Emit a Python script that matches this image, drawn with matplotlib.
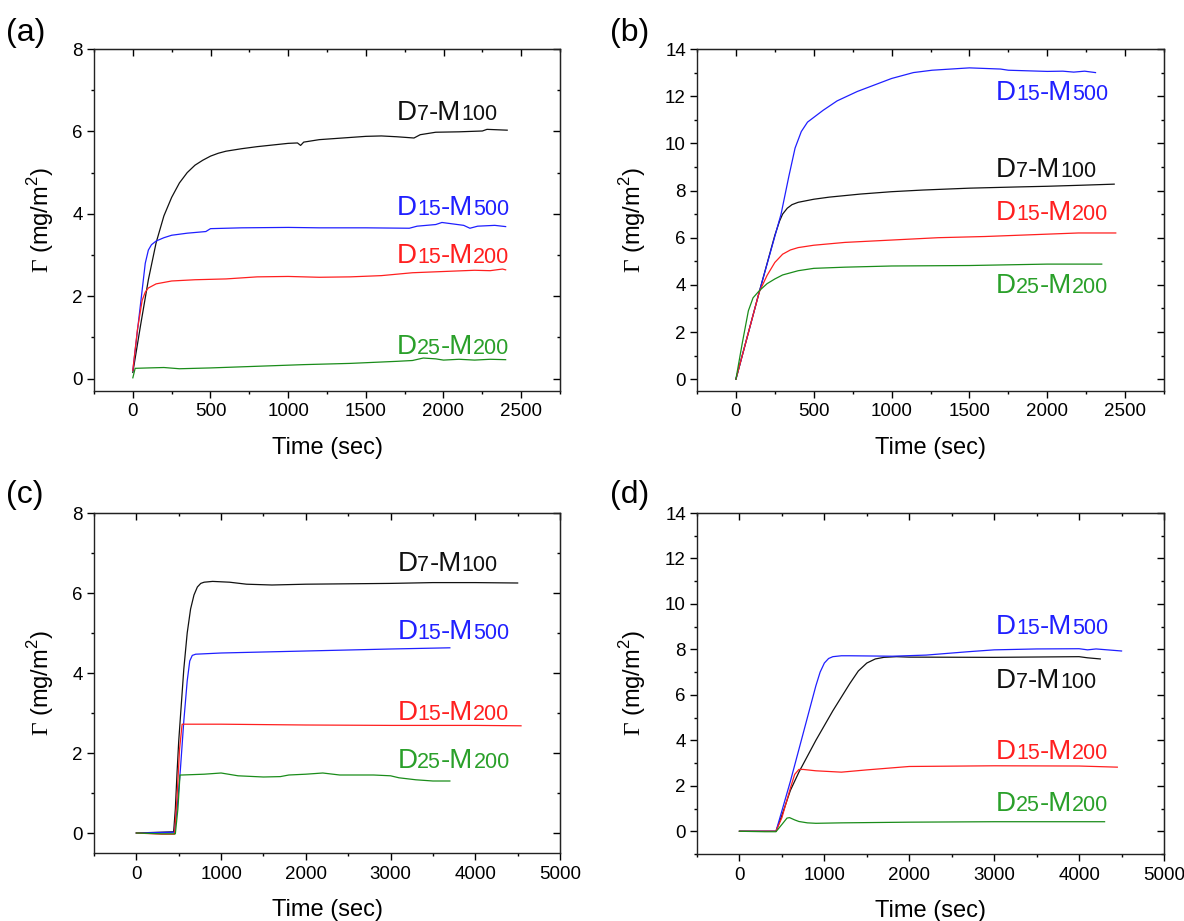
import matplotlib
matplotlib.use("Agg")
import matplotlib.pyplot as plt
from matplotlib.ticker import MultipleLocator

plt.rcParams['font.family'] = ['Liberation Sans', 'DejaVu Sans']
plt.rcParams['mathtext.fontset'] = 'custom'
plt.rcParams['mathtext.rm'] = 'Liberation Serif'
plt.rcParams['mathtext.sf'] = 'Liberation Sans'

# ---- data ----
# panel (a)
a_t_d7 = [0, 50, 100, 150, 200, 250, 300, 350, 400, 450, 500, 550, 600, 700, 800, 900, 1000, 1060, 1080, 1100,
          1200, 1350, 1500, 1600, 1700, 1810, 1850, 1950, 2100, 2250, 2280, 2410]
a_y_d7 = [0.15, 1.3, 2.4, 3.3, 3.95, 4.4, 4.75, 5.0, 5.18, 5.3, 5.4, 5.47, 5.52, 5.58, 5.63, 5.67, 5.71, 5.72, 5.66, 5.74,
          5.8, 5.84, 5.88, 5.89, 5.87, 5.84, 5.92, 5.98, 5.99, 6.01, 6.05, 6.03]
a_t_d15m500 = [0, 40, 80, 100, 120, 150, 200, 250, 350, 470, 500, 700, 1000, 1200, 1500, 1780, 1830, 1950, 1990,
               2050, 2130, 2170, 2220, 2330, 2400]
a_y_d15m500 = [0.2, 1.5, 2.8, 3.12, 3.25, 3.34, 3.42, 3.48, 3.53, 3.57, 3.64, 3.66, 3.67, 3.66, 3.66, 3.65, 3.7, 3.74,
               3.79, 3.76, 3.72, 3.65, 3.7, 3.72, 3.69]
a_t_d15m200 = [0, 30, 60, 80, 100, 150, 250, 400, 600, 800, 1000, 1200, 1400, 1600, 1800, 2000, 2200, 2300, 2380, 2400]
a_y_d15m200 = [0.2, 1.2, 1.9, 2.1, 2.2, 2.3, 2.37, 2.4, 2.42, 2.47, 2.48, 2.46, 2.47, 2.5, 2.57, 2.6, 2.63, 2.62,
               2.66, 2.64]
a_t_d25 = [0, 15, 100, 200, 300, 500, 800, 1100, 1400, 1700, 1800, 1870, 1950, 2000, 2100, 2200, 2300, 2400]
a_y_d25 = [0.02, 0.25, 0.26, 0.27, 0.24, 0.26, 0.3, 0.34, 0.37, 0.42, 0.44, 0.5, 0.48, 0.45, 0.47, 0.45, 0.47, 0.46]

# panel (b)
b_t_d7 = [0, 150, 250, 280, 300, 330, 360, 400, 500, 600, 800, 1000, 1200, 1500, 1800, 2000, 2200, 2430]
b_y_d7 = [0, 3.7, 6.1, 6.7, 7.0, 7.25, 7.4, 7.5, 7.63, 7.72, 7.85, 7.95, 8.02, 8.1, 8.15, 8.18, 8.22, 8.27]
b_t_d15m500 = [0, 150, 290, 340, 380, 420, 460, 500, 560, 650, 780, 900, 1000, 1140, 1260, 1500, 1700, 1750,
               2000, 2100, 2170, 2240, 2310]
b_y_d15m500 = [0, 3.7, 7.0, 8.6, 9.8, 10.5, 10.9, 11.1, 11.4, 11.8, 12.2, 12.5, 12.75, 13.0, 13.1, 13.2, 13.15,
               13.1, 13.05, 13.06, 13.02, 13.06, 13.0]
b_t_d15m200 = [0, 150, 200, 250, 300, 350, 400, 500, 700, 1000, 1300, 1600, 2000, 2200, 2440]
b_y_d15m200 = [0, 3.7, 4.4, 4.95, 5.3, 5.48, 5.58, 5.68, 5.8, 5.9, 6.0, 6.05, 6.15, 6.2, 6.2]
b_t_d25 = [0, 40, 80, 110, 150, 200, 250, 300, 400, 500, 700, 1000, 1500, 2000, 2350]
b_y_d25 = [0, 1.5, 2.9, 3.45, 3.75, 4.05, 4.25, 4.42, 4.6, 4.7, 4.75, 4.8, 4.82, 4.88, 4.88]

# panel (c)
c_t_d7 = [0, 440, 460, 480, 500, 530, 560, 600, 640, 680, 720, 760, 800, 900, 1000, 1100, 1300, 1600, 2000,
          2500, 3000, 3500, 4000, 4500]
c_y_d7 = [0, 0.03, 0.6, 1.5, 2.3, 3.2, 4.1, 5.0, 5.6, 5.95, 6.15, 6.24, 6.27, 6.29, 6.28, 6.27, 6.22, 6.2, 6.22,
          6.23, 6.24, 6.26, 6.26, 6.25]
c_t_d15m500 = [0, 450, 480, 520, 560, 600, 630, 660, 700, 800, 1000, 2000, 3000, 3700]
c_y_d15m500 = [0, 0.02, 0.6, 1.6, 2.8, 3.8, 4.3, 4.44, 4.47, 4.48, 4.5, 4.55, 4.6, 4.63]
c_t_d15m200 = [0, 300, 450, 480, 510, 540, 1000, 2000, 3000, 4000, 4540]
c_y_d15m200 = [0, -0.03, -0.03, 0.9, 2.1, 2.72, 2.72, 2.7, 2.69, 2.69, 2.68]
c_t_d25 = [0, 300, 460, 490, 515, 540, 800, 1000, 1200, 1500, 1700, 1800, 2000, 2200, 2400, 2800, 3000,
           3100, 3300, 3500, 3700]
c_y_d25 = [0, -0.02, -0.02, 0.6, 1.45, 1.45, 1.47, 1.5, 1.43, 1.4, 1.41, 1.45, 1.47, 1.5, 1.45, 1.45, 1.43,
           1.38, 1.33, 1.3, 1.3]

# panel (d)
d_t_d7 = [0, 430, 500, 600, 700, 800, 900, 1000, 1100, 1200, 1300, 1400, 1500, 1600, 1700, 1850, 2000, 3000,
          4000, 4100, 4250]
d_y_d7 = [0, 0, 0.7, 1.8, 2.6, 3.3, 4.0, 4.65, 5.3, 5.9, 6.5, 7.05, 7.4, 7.58, 7.65, 7.68, 7.66, 7.65, 7.68,
          7.63, 7.58]
d_t_d15m500 = [0, 430, 500, 600, 700, 800, 900, 950, 1000, 1050, 1100, 1200, 1300, 1800, 2200, 2700, 3000, 3500,
               4000, 4100, 4200, 4500]
d_y_d15m500 = [0, 0, 0.9, 2.2, 3.6, 5.0, 6.4, 7.0, 7.4, 7.6, 7.68, 7.72, 7.72, 7.7, 7.75, 7.9, 7.98, 8.02, 8.03,
               7.98, 8.02, 7.93]
d_t_d15m200 = [0, 430, 500, 600, 650, 700, 750, 900, 1200, 1500, 2000, 3000, 4000, 4450]
d_y_d15m200 = [0, 0, 0.6, 1.9, 2.5, 2.72, 2.72, 2.66, 2.6, 2.7, 2.85, 2.88, 2.87, 2.82]
d_t_d25 = [0, 300, 430, 500, 560, 590, 650, 700, 800, 900, 1200, 2000, 3000, 4300]
d_y_d25 = [0, -0.02, -0.02, 0.3, 0.58, 0.6, 0.5, 0.43, 0.37, 0.35, 0.37, 0.4, 0.42, 0.42]

# label positions (left x, baseline y) per panel, order: D7-M100, D15-M500, D15-M200, D25-M200
a_lab = [(1700, 6.27), (1700, 3.98), (1700, 2.81), (1700, 0.59)]
b_lab = [(1670, 8.57), (1670, 11.83), (1670, 6.73), (1670, 3.64)]
c_lab = [(3080, 6.54), (3080, 4.86), (3080, 2.83), (3080, 1.63)]
d_lab = [(3020, 6.32), (3020, 8.69), (3020, 3.2), (3020, 0.88)]

names = [("D", "7", "-M", "100"), ("D", "15", "-M", "500"), ("D", "15", "-M", "200"), ("D", "25", "-M", "200")]
line_colors = ['#111111', '#1f1fff', '#ff1f1f', '#1a8c1a']
text_colors = ['#111111', '#2020ff', '#ff2020', '#2aa02a']


def curve_label(ax, x, y, parts, color):
    # big letters and smaller digits sharing one baseline
    big, small = 20, 15.5
    prev = ax.text(x, y, parts[0], fontsize=big, color=color, ha='left', va='baseline')
    for i, p in enumerate(parts[1:], 1):
        fs = small if i % 2 == 1 else big
        prev = ax.annotate(p, xy=(1, y), xycoords=(prev, 'data'), ha='left', va='baseline',
                           fontsize=fs, color=color)


def setup_axes(ax, xlim, ylim, xmaj, xmin, ymax_tick):
    ax.set_xlim(*xlim)
    ax.set_ylim(*ylim)
    ax.set_xticks([v for v in range(0, int(xlim[1]) + 1, xmaj)])
    ax.xaxis.set_minor_locator(MultipleLocator(xmin))
    ax.set_yticks(list(range(0, ymax_tick + 1, 2)))
    ax.yaxis.set_minor_locator(MultipleLocator(1))
    ax.tick_params(which='both', direction='out', width=1.0, labelsize=13.5)
    ax.tick_params(which='major', length=5, pad=3)
    ax.tick_params(which='minor', length=2.5)
    ax.tick_params(axis='x', which='major', pad=4)
    for s in ax.spines.values():
        s.set_linewidth(1.0)
        s.set_color('#222222')
    # mirrored ticks on top/right point inward
    top = ax.secondary_xaxis('top')
    top.xaxis.set_major_locator(MultipleLocator(xmaj))
    top.xaxis.set_minor_locator(MultipleLocator(xmin))
    top.tick_params(which='both', direction='in', labeltop=False, width=1.0)
    top.tick_params(which='major', length=5)
    top.tick_params(which='minor', length=2.5)
    right = ax.secondary_yaxis('right')
    right.yaxis.set_major_locator(MultipleLocator(2))
    right.yaxis.set_minor_locator(MultipleLocator(1))
    right.tick_params(which='both', direction='in', labelright=False, width=1.0)
    right.tick_params(which='major', length=5)
    right.tick_params(which='minor', length=2.5)
    ax.set_xlabel('Time (sec)', fontsize=17, labelpad=12)
    ax.set_ylabel(r'$\mathrm{\Gamma}$ (mg/m$^{\mathsf{2}}$)', fontsize=17, labelpad=12)


fig = plt.figure(figsize=(11.84, 9.21), dpi=100)
W, H = 1184.0, 921.0
rects = {
    'a': (94 / W, 1 - 391 / H, 466 / W, 342 / H),
    'b': (697 / W, 1 - 391 / H, 467 / W, 342 / H),
    'c': (94 / W, 1 - 853 / H, 466 / W, 340 / H),
    'd': (697 / W, 1 - 854 / H, 467 / W, 341 / H),
}

panels = [
    ('a', [(a_t_d7, a_y_d7), (a_t_d15m500, a_y_d15m500), (a_t_d15m200, a_y_d15m200), (a_t_d25, a_y_d25)],
     a_lab, (-250, 2750), (-0.3, 8), 500, 250, 8),
    ('b', [(b_t_d7, b_y_d7), (b_t_d15m500, b_y_d15m500), (b_t_d15m200, b_y_d15m200), (b_t_d25, b_y_d25)],
     b_lab, (-250, 2750), (-0.5, 14), 500, 250, 14),
    ('c', [(c_t_d7, c_y_d7), (c_t_d15m500, c_y_d15m500), (c_t_d15m200, c_y_d15m200), (c_t_d25, c_y_d25)],
     c_lab, (-500, 5000), (-0.5, 8), 1000, 500, 8),
    ('d', [(d_t_d7, d_y_d7), (d_t_d15m500, d_y_d15m500), (d_t_d15m200, d_y_d15m200), (d_t_d25, d_y_d25)],
     d_lab, (-500, 5000), (-1, 14), 1000, 500, 14),
]

letter_pos = {'a': (6, 33), 'b': (610, 33), 'c': (6, 495), 'd': (610, 495)}

for key, series, labs, xlim, ylim, xmaj, xmin, ytop in panels:
    ax = fig.add_axes(rects[key])
    for (t, y), c in zip(series, line_colors):
        ax.plot(t, y, color=c, linewidth=0.9)
    for (lx, ly), parts, c in zip(labs, names, text_colors):
        curve_label(ax, lx, ly, parts, c)
    setup_axes(ax, xlim, ylim, xmaj, xmin, ytop)
    px, py = letter_pos[key]
    fig.text(px / W, 1 - py / H, '(%s)' % key, fontsize=23, ha='left', va='center')

fig.savefig('out.png', dpi=100)
